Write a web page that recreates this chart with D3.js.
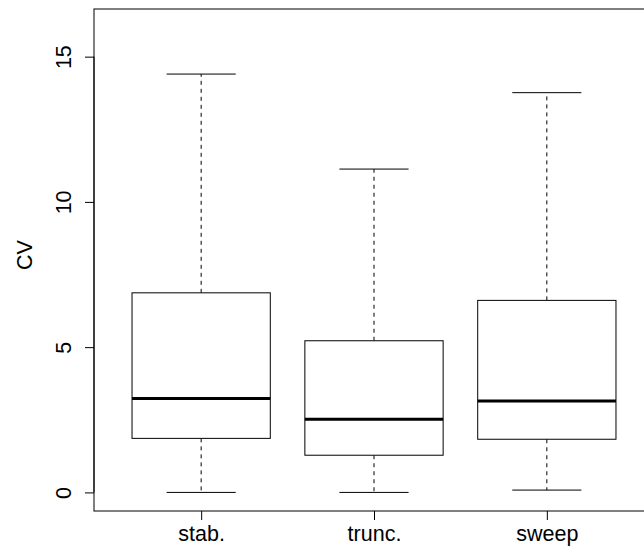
<!DOCTYPE html>
<html>
<head>
<meta charset="utf-8">
<script src="https://cdn.jsdelivr.net/npm/d3@7"></script>
<style>
  body { margin: 0; background: #fff; }
  text { font-family: "Liberation Sans", Arial, sans-serif; fill: #000; }
</style>
</head>
<body>
<svg id="chart" width="644" height="554"></svg>
<script>
// box plot stats
var groups = ["stab.", "trunc.", "sweep"];
var lowWhisker = [0.0, 0.0, 0.08];
var q1 = [1.86, 1.28, 1.83];
var medians = [3.23, 2.52, 3.15];
var q3 = [6.87, 5.22, 6.61];
var highWhisker = [14.40, 11.13, 13.76];
var yTicks = [0, 5, 10, 15];

// plot region (R-like, right edge runs off the canvas)
let plotLeft = 94, plotRight = 654, plotTop = 9, plotBottom = 511;

let svg = d3.select("#chart");

let x = d3.scaleLinear().domain([0.38, 3.62]).range([plotLeft, plotRight]);
let y = d3.scaleLinear().domain([-0.64, 16.64]).range([plotBottom, plotTop]);

let unit = x(2) - x(1);
let boxW = 0.8 * unit, capW = 0.4 * unit;

let boxes = groups.map(function(g, i) {
  return {name: g, pos: i + 1, lo: lowWhisker[i], q1: q1[i], med: medians[i], q3: q3[i], hi: highWhisker[i]};
});

let bx = svg.append("g").selectAll("g").data(boxes).enter().append("g");

// whiskers (dashed)
bx.append("line")
  .attr("x1", d => x(d.pos)).attr("x2", d => x(d.pos))
  .attr("y1", d => y(d.q3)).attr("y2", d => y(d.hi))
  .attr("stroke", "#000").attr("stroke-width", 1).attr("stroke-dasharray", "4,4");
bx.append("line")
  .attr("x1", d => x(d.pos)).attr("x2", d => x(d.pos))
  .attr("y1", d => y(d.q1)).attr("y2", d => y(d.lo))
  .attr("stroke", "#000").attr("stroke-width", 1).attr("stroke-dasharray", "4,4");

// caps
bx.append("line")
  .attr("x1", d => x(d.pos) - capW / 2).attr("x2", d => x(d.pos) + capW / 2)
  .attr("y1", d => y(d.hi)).attr("y2", d => y(d.hi))
  .attr("stroke", "#000").attr("stroke-width", 1);
bx.append("line")
  .attr("x1", d => x(d.pos) - capW / 2).attr("x2", d => x(d.pos) + capW / 2)
  .attr("y1", d => y(d.lo)).attr("y2", d => y(d.lo))
  .attr("stroke", "#000").attr("stroke-width", 1);

// box
bx.append("rect")
  .attr("x", d => x(d.pos) - boxW / 2)
  .attr("width", boxW)
  .attr("y", d => y(d.q3))
  .attr("height", d => y(d.q1) - y(d.q3))
  .attr("fill", "#fff").attr("stroke", "#000").attr("stroke-width", 1);

// median
bx.append("line")
  .attr("x1", d => x(d.pos) - boxW / 2).attr("x2", d => x(d.pos) + boxW / 2)
  .attr("y1", d => y(d.med)).attr("y2", d => y(d.med))
  .attr("stroke", "#000").attr("stroke-width", 3);

// frame
svg.append("rect")
  .attr("x", plotLeft).attr("y", plotTop)
  .attr("width", plotRight - plotLeft).attr("height", plotBottom - plotTop)
  .attr("fill", "none").attr("stroke", "#000").attr("stroke-width", 1);

// x axis
let xAxis = d3.axisBottom(x)
  .tickValues([1, 2, 3])
  .tickFormat(d => groups[d - 1])
  .tickSize(9).tickPadding(6);
let gx = svg.append("g").attr("transform", "translate(0," + plotBottom + ")").call(xAxis);
gx.select(".domain").remove();
gx.selectAll("text").style("font-size", "21.5px").attr("dy", "0.71em");

// y axis
let yAxis = d3.axisLeft(y).tickValues(yTicks).tickSize(9).tickPadding(0);
let gy = svg.append("g").attr("transform", "translate(" + plotLeft + ",0)").call(yAxis);
gy.select(".domain").attr("d", "M0," + y(0) + "V" + y(15));
gy.selectAll("text")
  .style("font-size", "21.5px")
  .attr("text-anchor", "middle")
  .attr("transform", "rotate(-90)")
  .attr("x", 0)
  .attr("y", -23)
  .attr("dy", 0);

// y label
svg.append("text")
  .attr("transform", "translate(32," + ((plotTop + plotBottom) / 2 - 5) + ") rotate(-90)")
  .attr("text-anchor", "middle")
  .style("font-size", "21.5px")
  .text("CV");
</script>
</body>
</html>
